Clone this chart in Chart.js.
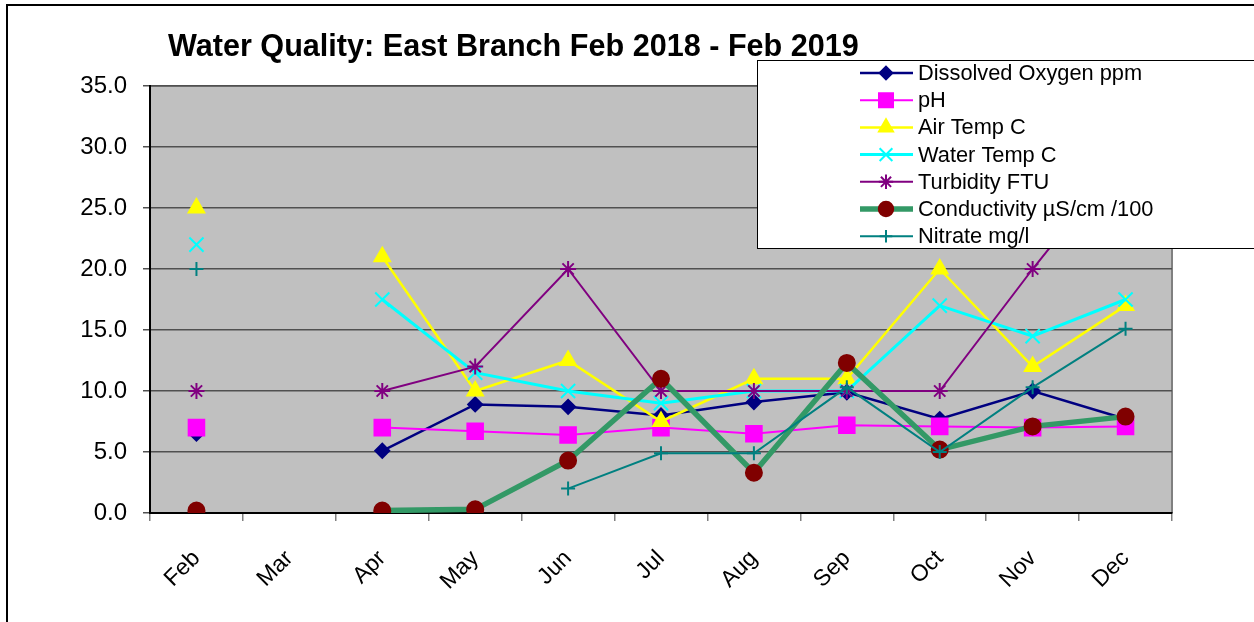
<!DOCTYPE html>
<html>
<head>
<meta charset="utf-8">
<script src="https://cdn.jsdelivr.net/npm/chart.js@4.4.1/dist/chart.umd.min.js"></script>
<style>
  body { margin: 0; background: #fff; }
  #wrap { width: 1254px; height: 622px; position: relative; }
</style>
</head>
<body>
<div id="wrap"><canvas id="wq_chart"></canvas></div>
<script>
// Water quality readings, East Branch (null = no reading that month)

const months = ["Feb", "Mar", "Apr", "May", "Jun", "Jul", "Aug", "Sep", "Oct", "Nov", "Dec"];

const dissolvedOxygen = [6.5, null, 5.1, 8.9, 8.7, 8.0, 9.1, 9.9, 7.7, 10.0, 7.7];
const ph              = [7.0, null, 7.0, 6.7, 6.4, 7.0, 6.5, 7.2, 7.1, 7.0, 7.1];
const airTemp         = [25.0, null, 21.0, 10.0, 12.5, 7.5, 11.0, 11.0, 20.0, 12.0, 17.0];
const waterTemp       = [22.0, null, 17.5, 11.5, 10.0, 9.0, 10.0, 10.0, 17.0, 14.5, 17.5];
const turbidity       = [10.0, null, 10.0, 12.0, 20.0, 10.0, 10.0, 10.0, 10.0, 20.0, 29.5];
const conductivity    = [0.2, null, 0.2, 0.3, 4.3, 11.0, 3.3, 12.3, 5.2, 7.1, 7.9];
const nitrate         = [20.0, null, null, null, 2.0, 4.9, 4.9, 10.3, 5.0, 10.3, 15.1];

const yTicks = [0, 5, 10, 15, 20, 25, 30, 35];

const FONT = "Arial, 'Liberation Sans', sans-serif";

function series(label, data, line, marker, style, radius, width) {
  return {
    label: label,
    data: data,
    borderColor: line,
    backgroundColor: marker,
    borderWidth: width,
    pointStyle: style,
    pointRadius: radius,
    pointHoverRadius: radius,
    pointBackgroundColor: marker,
    pointBorderColor: marker,
    pointBorderWidth: 2,
    tension: 0,
    spanGaps: false
  };
}

let datasets = [
  series("Dissolved Oxygen ppm", dissolvedOxygen, "#000080", "#000080", "rectRot", 7, 2.5),
  series("pH", ph, "#FF00FF", "#FF00FF", "rect", 11, 2),
  series("Air Temp C", airTemp, "#FFFF00", "#FFFF00", "triangle", 9, 2.5),
  series("Water Temp C", waterTemp, "#00FFFF", "#00FFFF", "crossRot", 10, 3),
  series("Turbidity FTU", turbidity, "#800080", "#800080", "star", 8, 2),
  series("Conductivity \u00B5S/cm /100", conductivity, "#339966", "#800000", "circle", 8, 5.5),
  series("Nitrate mg/l", nitrate, "#008080", "#008080", "cross", 7, 2)
];
// excel draws later series on top
datasets.forEach((ds, i) => { ds.order = datasets.length - i; });

// background, frame, plot fill, title and the boxed legend
const excelLook = {
  id: "excelLook",
  beforeDraw(chart) {
    const ctx = chart.ctx;
    const a = chart.chartArea;
    ctx.save();
    ctx.fillStyle = "#fff";
    ctx.fillRect(0, 0, chart.width, chart.height);
    ctx.strokeStyle = "#000";
    ctx.lineWidth = 2;
    ctx.strokeRect(7, 5, chart.width + 20, chart.height + 20);
    ctx.fillStyle = "#C0C0C0";
    ctx.fillRect(a.left, a.top, a.right - a.left, a.bottom - a.top);
    ctx.strokeStyle = "#808080";
    ctx.lineWidth = 2;
    ctx.beginPath();
    ctx.moveTo(a.left, a.top);
    ctx.lineTo(a.right, a.top);
    ctx.lineTo(a.right, a.bottom);
    ctx.stroke();
    ctx.fillStyle = "#000";
    ctx.font = "bold 30.6px " + FONT;
    ctx.textBaseline = "alphabetic";
    ctx.fillText("Water Quality: East Branch Feb 2018 - Feb 2019", 168, 56);
    ctx.restore();
  },
  afterDraw(chart) {
    const ctx = chart.ctx;
    ctx.save();
    ctx.fillStyle = "#fff";
    ctx.fillRect(757, 60, 520, 188);
    ctx.strokeStyle = "#000";
    ctx.lineWidth = 1;
    ctx.strokeRect(757.5, 60.5, 520, 188);
    ctx.font = "21.8px " + FONT;
    ctx.textBaseline = "middle";
    chart.data.datasets.forEach((ds, i) => {
      const y = 73 + i * 27.2;
      ctx.strokeStyle = ds.borderColor;
      ctx.lineWidth = ds.borderWidth;
      ctx.beginPath();
      ctx.moveTo(860, y);
      ctx.lineTo(913, y);
      ctx.stroke();
      ctx.fillStyle = ds.pointBackgroundColor;
      ctx.strokeStyle = ds.pointBorderColor;
      ctx.lineWidth = ds.pointBorderWidth;
      Chart.helpers.drawPoint(ctx, {
        pointStyle: ds.pointStyle,
        radius: ds.pointRadius * 0.9,
        rotation: 0,
        borderWidth: ds.pointBorderWidth
      }, 886, y);
      ctx.fillStyle = "#000";
      ctx.fillText(ds.label, 918, y + 1);
    });
    ctx.restore();
  }
};

const options = {
  responsive: true,
  maintainAspectRatio: false,
  animation: false,
  layout: {
    padding: { top: 86, right: 82, left: 0, bottom: 0 }
  },
  plugins: {
    legend: { display: false },
    title: { display: false },
    tooltip: { enabled: false }
  },
  scales: {
    x: {
      type: "category",
      offset: true,
      grid: {
        offset: true,
        drawOnChartArea: false,
        color: "#808080",
        lineWidth: 1.5,
        tickLength: 8
      },
      border: { color: "#000", width: 2 },
      ticks: {
        color: "#000",
        font: { family: FONT, size: 23 },
        minRotation: 45,
        maxRotation: 45,
        padding: 24
      },
      afterFit(scale) { scale.height = 109; }
    },
    y: {
      min: 0,
      max: 35,
      grid: {
        color: "#505050",
        lineWidth: 1.5,
        tickLength: 7
      },
      border: { color: "#000", width: 2 },
      afterBuildTicks(scale) {
        scale.ticks = yTicks.map(v => ({ value: v }));
      },
      ticks: {
        color: "#000",
        font: { family: FONT, size: 24 },
        padding: 16,
        callback: (v) => Number(v).toFixed(1)
      },
      afterFit(scale) { scale.width = 150; }
    }
  }
};

const chart = new Chart(document.getElementById("wq_chart"), {
  type: "line",
  data: { labels: months, datasets: datasets },
  options: options,
  plugins: [excelLook]
});
</script>
</body>
</html>
